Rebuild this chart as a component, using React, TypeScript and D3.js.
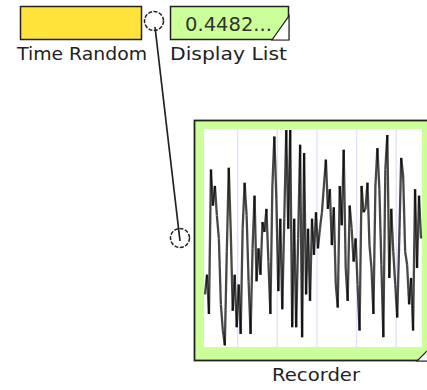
import React from "react";
import * as d3 from "d3";

// Recorded series (Time Random values, one sample per step)
const seriesValues: number[] = [
  0.239, 0.330, 0.148, 0.817, 0.650, 0.741, 0.604, 0.498, 0.193, 0.072,
  0.003, 0.437, 0.825, 0.528, 0.163, 0.330, 0.087, 0.285, 0.056, 0.543,
  0.756, 0.604, 0.300, 0.056, 0.452, 0.696, 0.300, 0.452, 0.330, 0.574,
  0.528, 0.635, 0.391, 0.148, 0.741, 0.970, 0.680, 0.254, 0.589, 0.170,
  0.589, 1.000, 0.543, 1.000, 0.087, 0.589, 0.087, 0.498, 0.932, 0.041,
  0.893, 0.239, 0.543, 0.209,
  0.589, 0.422, 0.619, 0.452, 0.543, 0.619, 0.741, 0.863, 0.635, 0.726,
  0.467, 0.642, 0.285, 0.178, 0.741, 0.559, 0.909, 0.361, 0.209, 0.650,
  0.543, 0.391, 0.498, 0.285, 0.072, 0.741, 0.619, 0.635, 0.756, 0.467,
  0.361, 0.148, 0.741, 0.916, 0.726, 0.376, 0.041, 0.817, 0.977, 0.315,
  0.635, 0.437, 0.285, 0.132, 0.482, 0.871, 0.787, 0.437, 0.376, 0.193,
  0.315, 0.072, 0.726, 0.361, 0.696, 0.498,
];
const gridTicks: number[] = [16.5, 36.5, 56.5, 76.5, 96.5];
const displayText = "0.4482...";
const sourceLabel = "Time Random";
const displayLabel = "Display List";
const recorderLabel = "Recorder";

const FONT = "DejaVu Sans, Verdana, sans-serif";
const GREEN = "#ccff99";

export default function App() {
  const plot = { x0: 204, x1: 422, y0: 129, y1: 347 };
  const x = d3.scaleLinear().domain([0, seriesValues.length - 1]).range([plot.x0 + 1, plot.x1 - 1]);
  const y = d3.scaleLinear().domain([0, 1]).range([plot.y1 - 1, plot.y0 + 1]);
  const segs = d3.pairs(seriesValues.map((v, i) => [x(i), y(v)] as [number, number]));

  return (
    <svg width={427} height={390} style={{ position: "absolute", left: 0, top: 0, background: "#fff" }}>
      {/* Time Random box */}
      <rect x={20.5} y={6.5} width={121} height={33} fill="#ffe33a" stroke="#222" strokeWidth={1.5} />
      <text x={17} y={60} fontFamily={FONT} fontSize={18} fill="#222"
        textLength={130} lengthAdjust="spacingAndGlyphs">{sourceLabel}</text>

      {/* Display List box */}
      <rect x={170.5} y={6.5} width={118} height={33} fill={GREEN} stroke="#222" strokeWidth={1.5} />
      <text x={185} y={31} fontFamily={FONT} fontSize={19} fill="#333"
        textLength={87} lengthAdjust="spacingAndGlyphs">{displayText}</text>
      <path d="M289,16 L289,40 L272,40 Z" fill="#fff" stroke="#222" strokeWidth={1.2} />
      <text x={170} y={60} fontFamily={FONT} fontSize={18} fill="#222"
        textLength={117} lengthAdjust="spacingAndGlyphs">{displayLabel}</text>

      {/* Recorder */}
      <rect x={194.5} y={120.5} width={244} height={240} fill={GREEN} stroke="#222" strokeWidth={1.8} />
      <rect x={plot.x0} y={plot.y0} width={plot.x1 - plot.x0} height={plot.y1 - plot.y0} fill="#fff" />
      {gridTicks.map((t, i) => (
        <line key={i} x1={x(t)} x2={x(t)} y1={plot.y0} y2={plot.y1} stroke="#e2e4ff" strokeWidth={1.5} />
      ))}
      {segs.map(([a, b], i) => (
        <line key={i} x1={a[0]} y1={a[1]} x2={b[0]} y2={b[1]} stroke="#000" strokeOpacity={0.72} strokeWidth={2.3} />
      ))}
      <path d="M417,361 L438,340 L438,361 Z" fill="#fff" stroke="#222" strokeWidth={1.2} />
      <text x={272} y={381} fontFamily={FONT} fontSize={18} fill="#222"
        textLength={88} lengthAdjust="spacingAndGlyphs">{recorderLabel}</text>

      {/* connector */}
      <circle cx={154} cy={21} r={9.5} fill="#fff" stroke="#222" strokeWidth={1.5} strokeDasharray="4 1.5" />
      <circle cx={180} cy={238} r={9.5} fill="#fff" stroke="#222" strokeWidth={1.5} strokeDasharray="4 1.5" />
      <line x1={155} y1={27} x2={180} y2={241} stroke="#222" strokeWidth={1.7} />
    </svg>
  );
}
